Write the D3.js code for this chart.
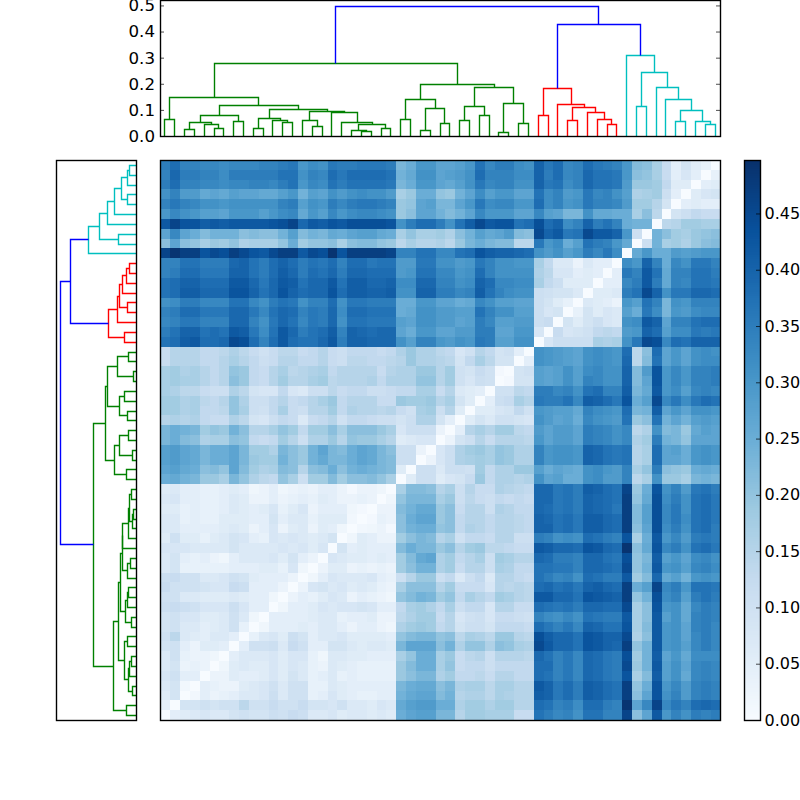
<!doctype html>
<html>
<head>
<meta charset="utf-8">
<style>
body { margin: 0; background: #fff; }
svg { display: block; }
text { font-family: "DejaVu Sans"; font-size: 16.67px; fill: #000; }
</style>
</head>
<body>
<svg id="chart" width="800" height="800"></svg>
<script src="https://d3js.org/d3.v7.min.js"></script>
<script>
// hierarchical clustering: tree, shared by both dendrograms. leaves are 0..56, merge k makes node 57+k
var linkLeft  = [0,2,5,4,58,7,61,9,12,11,64,15,14,20,19,22,71,18,17,69,67,63,57,24,26,28,81,80,30,32,85,34,36,88,87,84,79,38,41,45,44,43,95,40,94,55,54,52,104,51,50,48,108,47,101,93];
var linkRight = [1,3,6,59,60,8,62,10,13,65,66,16,68,21,70,23,72,73,74,75,76,77,78,25,27,29,82,83,31,33,86,35,37,89,90,91,92,39,42,46,96,97,98,99,100,56,102,53,103,105,106,49,107,109,110,111];
var linkHeight = [.066,.028,.032,.046,.055,.057,.081,.031,.053,.060,.069,.039,.060,.019,.024,.032,.045,.055,.093,.094,.103,.12,.148,.066,.023,.051,.109,.142,.061,.079,.113,.0165,.05,.126,.186,.2,.281,.08,.061,.047,.064,.092,.112,.122,.184,.047,.059,.057,.10,.141,.186,.115,.244,.312,.429,.496];
var linkColor = ["g","g","g","g","g","g","g","g","g","g","g","g","g","g","g","g","g","g","g","g","g","g","g","g","g","g","g","g","g","g","g","g","g","g","g","g","g","r","r","r","r","r","r","r","r","c","c","c","c","c","c","c","c","c","b","b"];

// distance matrix in hundredths, lower triangle. distRows[i] holds leaf i against leaves 0..i-1
var distRows = [
[],
[5],
[6,9],
[7,9,1.5],
[8,10,5,5],
[7,9,3,4,3],
[7,10,4,3,3,2],
[9,10,5,3,6,6,5],
[10,14,7,6,5,7,7,5],
[9,10,7,7,5,6,7,10,4],
[9,10,8,8,6,6,7,10,7,2],
[11,12,11,10,8,8,8,11,8,5,5],
[10,10,7,7,6,6,6,7,6,5,5,2],
[12,10,10,10,9,8,8,12,11,5,5,5,3],
[11,12,10,10,7,7,8,10,9,6,5,5,5,3],
[7,9,4,4,4,4,4,5,5,5,6,6,4,8,2],
[7,9,5,4,5,3,2,5,7,7,7,8,6,9,5,3],
[8,8,8,7,7,7,7,9,7,7,7,7,8,7,8,6,8],
[6,10,6,6,4,6,7,9,8,5,4,8,7,8,7,6,7,9],
[7,7,5,5,5,5,6,7,6,3,5,8,3,6,7,3,6,5,2],
[7,7,4,5,4,4,6,6,6,5,5,9,5,7,7,4,6,6,6,1.5],
[6,6,4,5,4,4,5,7,6,5,6,8,4,6,8,3,5,5,5,2,1],
[7,8,5,5,4,4,5,7,6,3,3,5,3,4,5,4,6,5,3,3,4,3],
[6,7,5,5,4,4,5,6,5,2,3,5,2,3,4,3,5,5,3,1,3,3,2],
[25,26,24,23,19,19,17,23,20,16,14,13,20,17,11,18,18,22,18,21,21,22,20,17],
[27,28,26,25,21,22,20,27,22,18,16,17,22,21,15,21,22,25,21,24,25,24,23,22,6],
[28,29,27,26,23,25,25,27,23,19,18,18,24,21,19,24,26,23,23,25,27,26,23,22,11,11],
[28,29,27,26,23,25,25,27,23,18,18,16,23,21,19,24,27,23,22,25,27,26,23,21,11,11,3],
[23,25,22,21,16,17,17,21,20,13,12,13,18,15,11,16,16,19,15,20,19,19,17,15,6,7,8,8],
[23,25,24,23,18,20,19,24,21,15,15,17,20,18,13,18,18,21,17,21,21,21,19,17,8,11,11,11,3],
[15,16,15,16,13,12,12,16,14,9,8,11,13,12,7,12,13,15,10,13,13,12,11,11,9,11,16,16,9,5],
[18,18,16,17,13,13,14,20,17,11,10,13,17,12,11,15,15,18,13,16,15,15,14,15,12,10,17,18,11,15,6],
[18,18,16,17,14,13,15,20,16,11,11,13,15,12,13,15,17,19,13,15,15,15,12,12,19,18,18,19,15,17,9,6],
[17,16,14,14,12,11,11,16,14,9,8,8,13,8,7,11,11,14,12,13,13,11,11,12,13,13,17,17,12,15,7,6,5],
[17,18,17,17,15,13,15,21,19,13,12,15,18,15,15,17,18,14,15,15,15,16,13,16,16,16,20,20,15,18,10,8,11,10],
[17,18,16,17,15,13,15,20,19,13,12,15,17,14,15,16,17,13,15,15,15,15,12,15,16,16,19,19,15,18,10,9,12,10,1],
[12,15,15,15,13,13,15,17,15,13,11,12,15,15,13,13,15,12,11,14,14,13,13,14,15,19,16,16,15,14,9,13,17,14,9,9],
[12,15,15,15,13,13,14,16,14,12,10,12,14,14,12,13,15,12,11,13,13,13,12,13,16,19,16,16,14,13,8,10,15,13,9,10,5],
[37,38,41,42,38,38,39,45,44,38,34,38,42,38,37,37,39,42,35,40,40,39,39,39,31,28,34,34,30,29,31,30,36,35,28,28,31,31],
[35,37,40,40,37,38,37,42,41,36,32,37,42,39,35,37,38,41,34,40,39,38,39,39,27,25,30,30,27,27,29,29,35,35,27,27,30,30,8],
[33,34,36,36,34,34,34,39,39,34,31,36,39,37,33,36,35,39,31,37,37,36,36,36,28,27,31,31,29,29,27,28,35,33,28,28,29,29,11,12],
[34,35,38,38,36,36,36,39,39,36,33,37,39,38,34,36,35,39,32,38,38,37,37,37,25,26,31,31,29,29,28,28,37,34,31,31,28,28,11,8,9],
[31,32,35,35,33,33,33,37,37,33,31,35,37,36,31,34,34,38,31,36,36,35,35,35,25,25,30,30,27,27,25,26,33,31,28,28,27,27,11,9,6,4],
[37,38,41,41,39,39,39,43,43,40,37,39,43,40,38,39,39,43,38,41,41,40,40,41,31,31,40,40,35,35,33,34,41,37,34,32,31,31,11,10,9,9,7],
[37,38,40,40,38,38,38,42,42,39,36,39,42,41,37,39,39,42,37,41,41,39,39,40,32,32,39,39,34,34,31,32,40,38,33,33,32,32,17,13,11,6,6,6],
[34,35,38,38,36,36,36,40,40,37,35,38,41,39,35,38,37,39,35,39,39,38,38,38,29,30,37,37,33,33,30,31,38,34,31,31,31,31,16,14,8,8,5,6,5],
[34,34,37,37,35,35,35,39,40,37,35,38,40,38,35,37,36,38,34,38,38,36,37,37,29,29,36,36,31,31,29,30,36,34,31,31,30,30,17,13,7,7,3,7,5,5],
[46,49,47,47,43,45,44,47,45,43,42,45,47,47,42,45,44,49,43,47,47,47,47,46,34,34,37,37,33,33,37,38,43,41,40,40,39,38,31,29,31,28,30,35,33,36,32],
[21,27,21,20,17,19,18,20,16,17,17,17,20,25,18,20,20,21,17,21,22,22,20,19,14,17,15,15,16,14,19,23,25,23,22,22,14,14,36,30,32,25,28,37,35,34,30,26],
[27,33,27,25,22,24,24,24,21,22,21,21,24,28,22,24,23,26,25,27,28,28,26,25,17,20,17,17,18,16,21,24,28,26,27,29,22,21,45,40,42,36,37,45,42,42,40,30,11],
[42,46,43,43,41,42,41,42,42,42,42,43,44,46,39,42,41,43,42,44,44,44,44,43,31,35,38,38,35,31,37,41,45,42,43,43,37,38,44,38,40,32,34,40,35,37,34,25,24,24],
[30,33,31,30,28,28,27,30,30,30,28,30,32,33,26,30,28,33,30,32,33,33,32,31,19,21,27,27,24,22,24,27,33,30,30,30,27,27,33,28,27,23,23,31,26,26,25,25,17,21,14],
[34,36,34,33,31,31,30,31,31,31,31,31,34,35,28,31,30,35,33,35,36,36,35,34,19,20,27,28,23,23,27,30,36,32,33,33,30,30,38,32,34,30,31,36,34,34,33,29,18,18,15,9],
[31,34,29,29,26,27,26,28,27,27,26,26,28,30,24,28,27,31,29,31,32,31,31,29,17,19,25,25,20,19,24,27,32,28,30,30,27,27,37,32,34,29,30,36,33,34,31,28,16,17,18,11,5],
[35,38,34,34,33,33,32,33,33,34,34,33,35,37,30,33,32,37,35,37,37,37,37,36,23,25,30,30,27,26,28,31,36,33,34,34,31,31,40,36,37,32,34,39,37,37,36,29,19,19,18,13,6,6],
[34,39,35,35,34,34,32,35,35,35,35,35,37,37,31,34,33,38,36,38,38,38,38,37,24,26,31,31,27,28,29,31,38,34,34,34,32,32,40,35,38,33,34,39,37,37,36,30,21,20,17,12,5,8,5],
[35,38,34,34,33,33,32,33,33,33,34,34,35,36,30,32,31,36,35,35,36,36,36,35,23,25,30,30,27,27,28,30,37,33,35,35,32,31,40,36,38,33,34,38,36,35,34,30,22,21,17,12,5,9,6,4]
];

var topTicks = [0, 0.1, 0.2, 0.3, 0.4, 0.5];
var barTicks = [0, 0.05, 0.1, 0.15, 0.2, 0.25, 0.3, 0.35, 0.4, 0.45];
var blues = ["#f7fbff","#deebf7","#c6dbef","#9ecae1","#6baed6","#4292c6","#2171b5","#08519c","#08306b"];
var clusterColors = { g: "#008000", r: "#ff0000", c: "#00bfbf", b: "#0000ff" };

var vmax = 0.4975;
var n = distRows.length;
var svg = d3.select("#chart");

var x = d3.scaleLinear().domain([0, n]).range([160, 720]);
var y = d3.scaleLinear().domain([0, n]).range([720, 160]);
var color = d3.scaleLinear()
	.domain(blues.map(function(d, i) { return i / 8 * vmax; }))
	.range(blues);

// heatmap
var cells = [];
for (var i = 0; i < n; i++) {
	for (var j = 0; j < n; j++) {
		var v = i == j ? 0 : (i > j ? distRows[i][j] : distRows[j][i]) / 100;
		cells.push({ col: j, row: i, v: v });
	}
}
svg.append("g").selectAll("rect")
	.data(cells).enter().append("rect")
	.attr("shape-rendering", "crispEdges")
	.attr("x", function(d) { return Math.ceil(x(d.col)); })
	.attr("y", function(d) { return Math.round(y(d.row + 1)); })
	.attr("width", function(d) { return Math.ceil(x(d.col + 1)) - Math.ceil(x(d.col)); })
	.attr("height", function(d) { return Math.round(y(d.row)) - Math.round(y(d.row + 1)); })
	.attr("fill", function(d) { return color(d.v); });

// dendrogram nodes: position along the leaf axis, height of the node
var pos = d3.range(n).map(function(d) { return d + 0.5; });
var hgt = d3.range(n).map(function() { return 0; });
var links = linkLeft.map(function(l, k) {
	var r = linkRight[k];
	var link = { a: pos[l], b: pos[r], ha: hgt[l], hb: hgt[r], h: linkHeight[k], c: clusterColors[linkColor[k]] };
	pos.push((pos[l] + pos[r]) / 2);
	hgt.push(linkHeight[k]);
	return link;
});
var hTop = d3.max(linkHeight) * 1.05;

// 1pt lines at 100 dpi, snapped to the pixel grid
function drawTree(g, pointOf) {
	g.selectAll("path")
		.data(links).enter().append("path")
		.attr("fill", "none")
		.attr("stroke-width", 1.39)
		.attr("stroke", function(d) { return d.c; })
		.attr("d", function(d) {
			return d3.line()([pointOf(d.a, d.ha), pointOf(d.a, d.h), pointOf(d.b, d.h), pointOf(d.b, d.hb)]);
		});
}

// top dendrogram
var topY = d3.scaleLinear().domain([0, hTop]).range([136, 0]);
drawTree(svg.append("g"), function(p, h) { return [Math.floor(x(p)) + 0.5, Math.round(topY(h)) + 0.5]; });

svg.append("g").attr("transform", "translate(160,0)")
	.call(d3.axisLeft(topY).tickValues(topTicks).tickFormat(d3.format(".1f")).tickSizeInner(-4).tickSizeOuter(0).tickPadding(5));
svg.append("g").attr("transform", "translate(720,0)")
	.call(d3.axisRight(topY).tickValues(topTicks).tickFormat("").tickSizeInner(-4).tickSizeOuter(0));

// left dendrogram
var leftX = d3.scaleLinear().domain([hTop, 0]).range([56, 136]);
drawTree(svg.append("g"), function(p, h) { return [Math.round(leftX(h)) + 0.5, Math.round(y(p)) + 0.5]; });

// colorbar
var barY = d3.scaleLinear().domain([0, vmax]).range([720, 160]);
svg.append("g").selectAll("rect")
	.data(d3.range(256)).enter().append("rect")
	.attr("shape-rendering", "crispEdges")
	.attr("x", 744)
	.attr("width", 16)
	.attr("y", function(d) { return Math.floor(barY((d + 1) / 256 * vmax)); })
	.attr("height", function(d) { return Math.ceil(barY(d / 256 * vmax)) - Math.floor(barY((d + 1) / 256 * vmax)); })
	.attr("fill", function(d) { return color((d + 0.5) / 256 * vmax); });

var barAxis = svg.append("g").attr("transform", "translate(760,0)")
	.call(d3.axisRight(barY).tickValues(barTicks).tickFormat(d3.format(".2f")).tickSizeInner(-4).tickSizeOuter(0).tickPadding(4.5));

// hide axis spines, the frames are drawn on top
svg.selectAll(".domain").remove();
svg.selectAll(".tick line").attr("stroke-width", 0.7);
svg.selectAll(".tick text").style("font-family", "DejaVu Sans").style("font-size", "16.67px");
barAxis.selectAll(".tick text").style("font-size", "16px");

// frames
var frames = [[160,0,560,136],[56,160,80,560],[160,160,560,560],[744,160,16,560]];
svg.append("g").selectAll("rect")
	.data(frames).enter().append("rect")
	.attr("x", function(d) { return d[0] + 0.5; })
	.attr("y", function(d) { return d[1] + 0.5; })
	.attr("width", function(d) { return d[2]; })
	.attr("height", function(d) { return d[3]; })
	.attr("fill", "none")
	.attr("stroke", "#000")
	.attr("stroke-width", 1.39);
</script>
</body>
</html>
